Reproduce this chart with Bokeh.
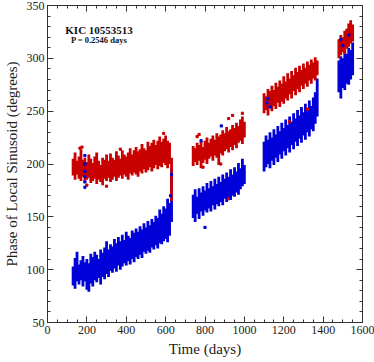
from bokeh.plotting import figure
from bokeh.models import (LinearAxis, Range1d, SingleIntervalTicker, Label, ColumnDataSource,
                          CustomJSTickFormatter)
from bokeh.embed import file_html
from bokeh.resources import INLINE

# ---- data ----
t = [130, 140, 150, 160, 170, 180, 190, 200, 210, 220, 230, 240, 250, 260, 270, 280, 290,
     300, 310, 320, 330, 340, 350, 360, 370, 380, 390, 400, 410, 420, 430, 440, 450, 460,
     470, 480, 490, 500, 510, 520, 530, 540, 550, 560, 570, 580, 590, 600, 610, 620, 630,
     740, 750, 760, 770, 780, 790, 800, 810, 820, 830, 840, 850, 860, 870, 880, 890, 900,
     910, 920, 930, 940, 950, 960, 970, 980, 990, 1000,
     1100, 1110, 1120, 1130, 1140, 1150, 1160, 1170, 1180, 1190, 1200, 1210, 1220, 1230,
     1240, 1250, 1260, 1270, 1280, 1290, 1300, 1310, 1320, 1330, 1340, 1350, 1360, 1370,
     1480, 1490, 1500, 1510, 1520, 1530, 1540, 1550]

red_lo = [189, 185, 190, 186, 184, 188, 183, 185, 187, 182, 184, 186, 181, 185, 183, 180, 186,
          184, 187, 183, 185, 188, 184, 187, 189, 186, 190, 188, 185, 191, 189, 192, 190, 188,
          193, 191, 195, 192, 194, 197, 193, 196, 199, 195, 198, 197, 201, 199, 196, 200, 165,
          198, 202, 199, 203, 196, 201, 204, 200, 205, 207, 203, 208, 206, 199, 210, 208, 212,
          214, 211, 216, 213, 218, 215, 220, 222, 219, 225,
          248, 251, 246, 253, 250, 255, 252, 258, 254, 259, 257, 262, 260, 266,
          262, 269, 265, 271, 268, 274, 271, 276, 273, 279, 276, 281, 279, 284,
          300, 303, 306, 304, 309, 311, 314, 316]
red_hi = [205, 211, 203, 207, 214, 204, 206, 202, 209, 205, 201, 207, 211, 203, 199, 206, 204,
          209, 203, 210, 206, 204, 212, 208, 205, 213, 209, 207, 211, 215, 209, 213, 216, 212,
          214, 219, 215, 213, 221, 217, 220, 223, 218, 222, 226, 221, 224, 227, 222, 220, 206,
          217, 215, 220, 218, 221, 216, 222, 225, 220, 224, 227, 223, 229, 226, 228, 232, 229,
          235, 231, 233, 237, 234, 239, 236, 242, 245, 240,
          267, 264, 271, 269, 274, 270, 277, 273, 279, 276, 283, 278, 286, 281,
          288, 284, 291, 287, 293, 289, 295, 291, 297, 294, 299, 296, 301, 298,
          318, 322, 320, 326, 328, 333, 336, 332]

blue_lo = [85, 82, 89, 86, 90, 84, 89, 81, 79, 87, 84, 90, 88, 92, 86, 93, 91,
           96, 93, 99, 97, 101, 98, 104, 100, 103, 106, 104, 108, 105, 110, 107, 112, 110,
           114, 111, 117, 115, 118, 116, 121, 119, 123, 120, 125, 124, 127, 129, 126, 132, 145,
           149, 145, 153, 148, 155, 151, 156, 154, 158, 155, 161, 157, 162, 160, 164, 161, 167,
           164, 168, 166, 170, 169, 173, 171, 176, 179, 181,
           193, 197, 200, 196, 203, 199, 206, 202, 209, 205, 212, 208, 215, 211,
           218, 214, 221, 217, 224, 220, 227, 223, 230, 226, 233, 231, 238, 245,
           268, 262, 272, 270, 276, 275, 280, 284]
blue_hi = [103, 111, 117, 105, 109, 113, 107, 110, 106, 115, 112, 117, 114, 110, 119, 116, 121,
           127, 119, 124, 122, 129, 125, 131, 127, 133, 128, 136, 132, 130, 137, 135, 139, 136,
           141, 138, 144, 140, 146, 142, 148, 145, 151, 149, 157, 153, 160, 158, 167, 163, 196,
           171, 176, 169, 177, 173, 179, 175, 182, 177, 184, 179, 186, 181, 188, 183, 190, 186,
           192, 188, 195, 190, 197, 193, 201, 196, 205, 199,
           221, 227, 223, 230, 225, 233, 228, 236, 231, 239, 234, 242, 237, 245,
           240, 248, 243, 251, 246, 254, 249, 257, 252, 260, 255, 263, 268, 281,
           298, 302, 300, 306, 304, 310, 308, 315]

red_out_t = [165, 175, 200, 300, 370, 590, 760, 770, 790, 880, 919, 920, 940, 990, 1230, 1320]
red_out_y = [215, 216, 180, 179, 214, 229, 226, 228, 197, 200, 167, 243, 246, 248, 240, 252]

blue_out_t = [190, 190, 190, 190, 190, 190, 625, 630, 780, 883, 800, 1115, 1120, 1130, 1490, 1500, 1530]
blue_out_y = [178, 183, 188, 193, 200, 208, 170, 190, 222, 236, 140, 258, 262, 254, 318, 312, 322]

x_ticks_interval = 200
y_ticks_interval = 50

RED = "#c80000"
BLUE = "#0000d8"
FONT = "Liberation Serif"

src = ColumnDataSource(dict(t=t, red_lo=red_lo, red_hi=red_hi, blue_lo=blue_lo, blue_hi=blue_hi))

p = figure(width=374, height=360, x_range=Range1d(0, 1600), y_range=Range1d(50, 350),
           output_backend="svg", toolbar_location=None,
           min_border_left=40, min_border_right=12, min_border_top=5, min_border_bottom=38)

p.grid.visible = False
p.outline_line_color = "#333333"
p.background_fill_color = "white"
p.border_fill_color = "white"

p.segment(x0="t", y0="blue_lo", x1="t", y1="blue_hi", source=src, line_color=BLUE, line_width=2.8)
p.segment(x0="t", y0="red_lo", x1="t", y1="red_hi", source=src, line_color=RED, line_width=2.8)
p.scatter(red_out_t, red_out_y, marker="square", size=2.2, color=RED)
p.scatter(blue_out_t, blue_out_y, marker="square", size=2.2, color=BLUE)

xt = SingleIntervalTicker(interval=x_ticks_interval, num_minor_ticks=4)
yt = SingleIntervalTicker(interval=y_ticks_interval, num_minor_ticks=5)

def style(ax, labels=True):
    ax.major_tick_in = 6
    ax.major_tick_out = 0
    ax.minor_tick_in = 3
    ax.minor_tick_out = 0
    ax.axis_line_color = "#333333"
    ax.major_tick_line_color = "#333333"
    ax.minor_tick_line_color = "#333333"
    if labels:
        ax.major_label_text_font = FONT
        ax.major_label_text_font_size = "12px"
        ax.major_label_text_color = "#222222"
        ax.axis_label_text_font = FONT
        ax.axis_label_text_font_size = "15px"
        ax.axis_label_text_font_style = "normal"
        ax.axis_label_text_color = "#222222"
        ax.major_label_standoff = 3
        ax.axis_label_standoff = 4
    else:
        ax.formatter = CustomJSTickFormatter(code="return ''")
        ax.major_label_text_font_size = "1px"
        ax.major_label_standoff = 0

p.xaxis[0].ticker = xt
p.yaxis[0].ticker = yt
p.xaxis[0].axis_label = "Time (days)"
p.yaxis[0].axis_label = "Phase of Local Sinusoid (degrees)"
style(p.xaxis[0])
style(p.yaxis[0])

top = LinearAxis(ticker=SingleIntervalTicker(interval=x_ticks_interval, num_minor_ticks=4))
right = LinearAxis(ticker=SingleIntervalTicker(interval=y_ticks_interval, num_minor_ticks=5))
style(top, labels=False)
style(right, labels=False)
p.add_layout(top, "above")
p.add_layout(right, "right")

p.add_layout(Label(x=262, y=327, text="KIC 10553513", text_font=FONT, text_font_size="11px",
                   text_font_style="bold", text_align="center", text_baseline="middle",
                   text_color="#111111"))
p.add_layout(Label(x=262, y=317, text="P = 0.2546 days", text_font=FONT, text_font_size="8.5px",
                   text_font_style="bold", text_align="center", text_baseline="middle",
                   text_color="#111111"))

open("out.html", "w").write(file_html(p, INLINE))
